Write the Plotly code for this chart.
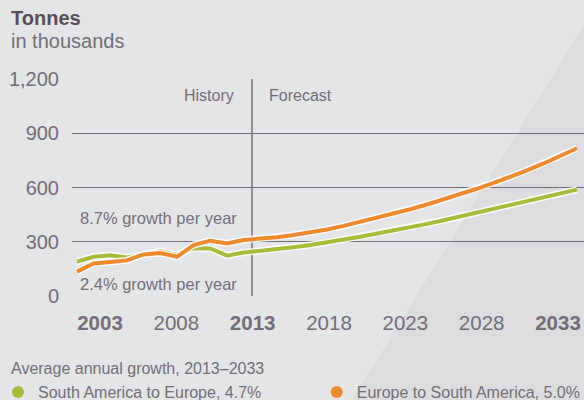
import plotly.graph_objects as go

# ---------------- data ----------------
years_history = list(range(2003, 2014))
years_forecast = list(range(2014, 2034))
years = years_history + years_forecast

south_america_to_europe = [190, 217, 225, 213, 230, 249, 227, 264, 263, 223, 240,
                           249, 259, 270, 282, 295, 312, 328, 345, 362, 380,
                           399, 419, 440, 460, 480, 500, 521, 543, 565, 588]
europe_to_south_america = [135, 180, 188, 197, 230, 238, 217, 282, 306, 291, 310,
                           316, 325, 337, 352, 368, 388, 410, 432, 456, 480,
                           506, 534, 563, 593, 625, 659, 695, 733, 774, 817]

series_names = ["South America to Europe, 4.7%", "Europe to South America, 5.0%"]
series_colors = ["#a9bb3a", "#ed8a2e"]

x_tick_labels = ["<b>2003</b>", "2008", "<b>2013</b>", "2018", "2023", "2028", "<b>2033</b>"]
y_tick_values = [0, 300, 600, 900, 1200]
y_tick_labels = ["0", "300", "600", "900", "1,200"]

history_forecast_boundary = 2013.5

# ---------------- style ----------------
FONT = "Liberation Sans, Arial, sans-serif"
TXT = "#736e77"
DARK = "#574f58"
GRID = "#736d75"
BG = "#e4e5e7"
BG2 = "#dddddf"

fig = go.Figure()

for vals, color in [(south_america_to_europe, series_colors[0]),
                    (europe_to_south_america, series_colors[1])]:
    fig.add_trace(go.Scatter(x=years, y=vals, mode="lines",
                             line=dict(color="rgba(255,255,255,0.85)", width=7),
                             hoverinfo="skip", showlegend=False))
    fig.add_trace(go.Scatter(x=years, y=vals, mode="lines",
                             line=dict(color=color, width=4),
                             showlegend=False))

# legend entries (circle markers), one legend each so they can be placed apart
for name, color, lg in zip(series_names, series_colors, ["legend", "legend2"]):
    fig.add_trace(go.Scatter(x=[None], y=[None], mode="markers", name=name, legend=lg,
                             marker=dict(color=color, size=11, symbol="circle")))

# invisible trace carrying the tick-label axis
fig.add_trace(go.Scatter(x=list(range(len(x_tick_labels))), y=[0] * len(x_tick_labels),
                         xaxis="x2", mode="markers", marker=dict(opacity=0),
                         hoverinfo="skip", showlegend=False))

fig.update_layout(
    width=584, height=400,
    margin=dict(l=72, r=0, t=79, b=104, autoexpand=False),
    paper_bgcolor=BG, plot_bgcolor="rgba(0,0,0,0)",
    font=dict(family=FONT, color=TXT),
    xaxis=dict(range=[2002.7, 2033.42], showgrid=False, zeroline=False,
               showticklabels=False, ticks="", fixedrange=True),
    xaxis2=dict(overlaying="x", side="bottom", anchor="y",
                range=[-0.367, 6.341], tickmode="array",
                tickvals=list(range(len(x_tick_labels))), ticktext=x_tick_labels,
                showgrid=False, zeroline=False, ticks="",
                ticklabelstandoff=12,
                tickfont=dict(size=20.5, color=TXT, family=FONT)),
    yaxis=dict(range=[0, 1200], tickmode="array", tickvals=y_tick_values,
               ticktext=y_tick_labels, showgrid=True, gridcolor=GRID, gridwidth=1.4,
               zeroline=False, ticks="", ticklabelstandoff=12,
               tickfont=dict(size=20, color=TXT, family=FONT)),
    showlegend=True,
    legend=dict(orientation="h", x=-0.1445, xanchor="left", y=-0.521, yanchor="bottom",
                bgcolor="rgba(0,0,0,0)", font=dict(size=16, color=TXT),
                itemsizing="constant"),
    legend2=dict(orientation="h", x=0.478, xanchor="left", y=-0.521, yanchor="bottom",
                 bgcolor="rgba(0,0,0,0)", font=dict(size=16, color=TXT),
                 itemsizing="constant"),
)

# background diagonal panel
fig.add_shape(type="path", xref="paper", yref="paper",
              path="M 1.0 1.25 L 1.0 -0.48 L 0.547 -0.48 Z",
              fillcolor=BG2, line=dict(width=0), layer="below")

# history / forecast divider
fig.add_shape(type="line", xref="x", yref="paper",
              x0=history_forecast_boundary, x1=history_forecast_boundary, y0=0, y1=1,
              line=dict(color=GRID, width=1.4), layer="below")

annos = [
    dict(text="<b>Tonnes</b>", x=-0.124, y=1.281, xanchor="left", yanchor="middle",
         font=dict(size=20, color=DARK)),
    dict(text="in thousands", x=-0.124, y=1.175, xanchor="left", yanchor="middle",
         font=dict(size=20, color=TXT)),
    dict(text="History", x=0.320, y=0.926, xanchor="right", yanchor="middle",
         font=dict(size=16, color=TXT)),
    dict(text="Forecast", x=0.380, y=0.926, xanchor="left", yanchor="middle",
         font=dict(size=16, color=TXT)),
    dict(text="8.7% growth per year", x=0.012, y=0.359, xanchor="left", yanchor="middle",
         font=dict(size=16.5, color=TXT)),
    dict(text="2.4% growth per year", x=0.012, y=0.055, xanchor="left", yanchor="middle",
         font=dict(size=16.5, color=TXT)),
    dict(text="Average annual growth, 2013–2033", x=-0.124, y=-0.336,
         xanchor="left", yanchor="middle", font=dict(size=16, color=TXT)),
]
for a in annos:
    fig.add_annotation(xref="paper", yref="paper", showarrow=False, **a)

fig.write_html("out.html", config={"displayModeBar": False},
               post_script="document.body.style.margin='0';")
